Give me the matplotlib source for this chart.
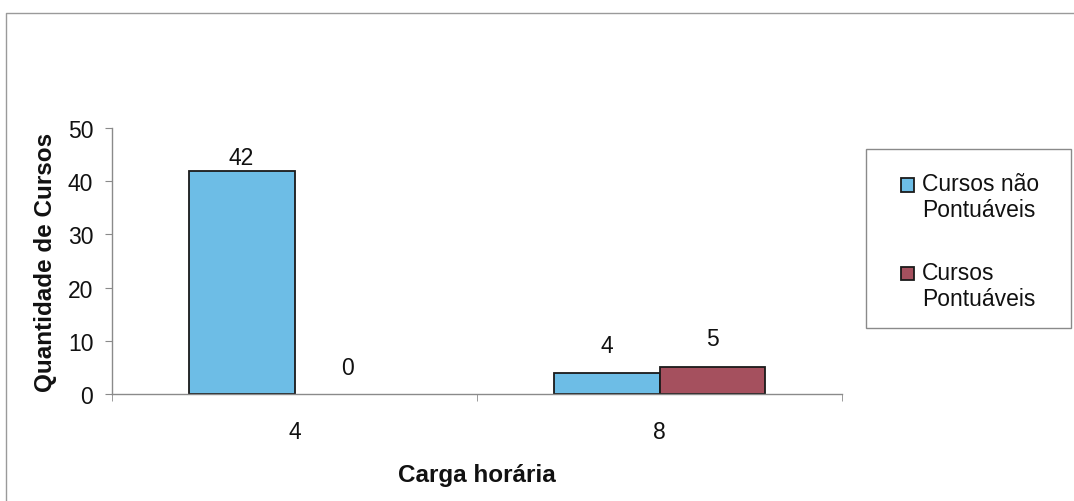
import matplotlib
matplotlib.use("Agg")
import matplotlib.pyplot as plt
from matplotlib.patches import Rectangle
from matplotlib.legend_handler import HandlerPatch
import numpy as np

plt.rcParams['font.family'] = ['Liberation Sans', 'DejaVu Sans']

categories = ["4", "8"]
series_names = ["Cursos não\nPontuáveis", "Cursos\nPontuáveis"]
nao_pontuaveis = [42, 4]
pontuaveis = [0, 5]
y_ticks = [0, 10, 20, 30, 40, 50]

blue = "#6dbde6"
wine = "#a5505e"
edge = "#1a1a1a"
axis_gray = "#8a8a8a"
W, H = 1074, 502

fig = plt.figure(figsize=(W / 100, H / 100), dpi=100)
fig.patch.set_facecolor("white")

# outer chart frame (left and top edges)
fig.add_artist(plt.Line2D([6 / W, 6 / W, 1.0], [0.0, 1 - 14 / H, 1 - 14 / H],
                          transform=fig.transFigure, color="#9a9a9a", linewidth=1.0))

ax = fig.add_axes([112 / W, 1 - 395 / H, (842 - 112) / W, (395 - 129) / H])
x = np.arange(len(categories))
w = 0.29
b1 = ax.bar(x - w / 2, nao_pontuaveis, width=w, color=blue, edgecolor=edge,
            linewidth=1.3, label=series_names[0])
b2 = ax.bar(x + w / 2, pontuaveis, width=w, color=wine, edgecolor=edge,
            linewidth=1.3, label=series_names[1])

# value labels above the bars (offsets in points)
label_offsets = {(0, 0): 1.0, (0, 1): 11, (1, 0): 11, (1, 1): 12.5}
for si, (bars, vals) in enumerate(((b1, nao_pontuaveis), (b2, pontuaveis))):
    for ci, (rect, v) in enumerate(zip(bars, vals)):
        ax.annotate(str(v), (rect.get_x() + rect.get_width() / 2, v),
                    xytext=(0, label_offsets[(si, ci)]), textcoords="offset points",
                    ha="center", va="bottom", fontsize=16.5, color="#111111")

# a zero-height bar shows no outline on the axis line
for bars in (b1, b2):
    for rect in bars:
        if rect.get_height() == 0:
            rect.set_linewidth(0)

ax.set_xlim(-0.5, 1.5)
ax.set_ylim(0, 50)
ax.set_yticks(y_ticks)
ax.set_xticks(x)
ax.set_xticklabels(categories)
ax.set_xticks([-0.5, 0.5, 1.5], minor=True)
ax.tick_params(axis="x", which="major", length=0, labelsize=16.5, pad=19, colors="#111111")
ax.tick_params(axis="x", which="minor", length=5, color=axis_gray, direction="out")
ax.tick_params(axis="y", length=5, color=axis_gray, labelsize=16.5, pad=8.5, labelcolor="#111111")
for s in ("top", "right"):
    ax.spines[s].set_visible(False)
for s in ("left", "bottom"):
    ax.spines[s].set_color(axis_gray)
    ax.spines[s].set_linewidth(1.0)

ax.set_ylabel("Quantidade de Cursos", fontsize=17.5, fontweight="bold", labelpad=8,
              color="#111111")
ax.set_xlabel("Carga horária", fontsize=17.5, fontweight="bold", labelpad=14,
              color="#111111")


# legend swatch sits beside the first line of each two-line label
def first_line_square(legend, orig_handle, xdescent, ydescent, width, height, fontsize):
    return Rectangle((-xdescent, -ydescent + 0.55 * fontsize), width, height)


swatch_handler = HandlerPatch(patch_func=first_line_square)

fig.add_artist(Rectangle((866 / W, 1 - 329 / H), (1071 - 866) / W, (329 - 150) / H,
                         transform=fig.transFigure, fill=False,
                         edgecolor="#8a8a8a", linewidth=1.0))
leg = fig.legend(handles=[b1.patches[0], b2.patches[0]], labels=series_names,
                 loc="upper left", bbox_to_anchor=(901 / W, 1 - 173 / H),
                 handler_map={Rectangle: swatch_handler},
                 fontsize=16.5, frameon=False, handlelength=0.55, handleheight=0.55,
                 handletextpad=0.35, labelspacing=1.75, borderpad=0, borderaxespad=0)
for t in leg.get_texts():
    t.set_linespacing(1.15)
    t.set_color("#111111")
for h in leg.legend_handles:
    h.set_edgecolor(edge)
    h.set_linewidth(1.3)

fig.savefig("out.png", dpi=100)
